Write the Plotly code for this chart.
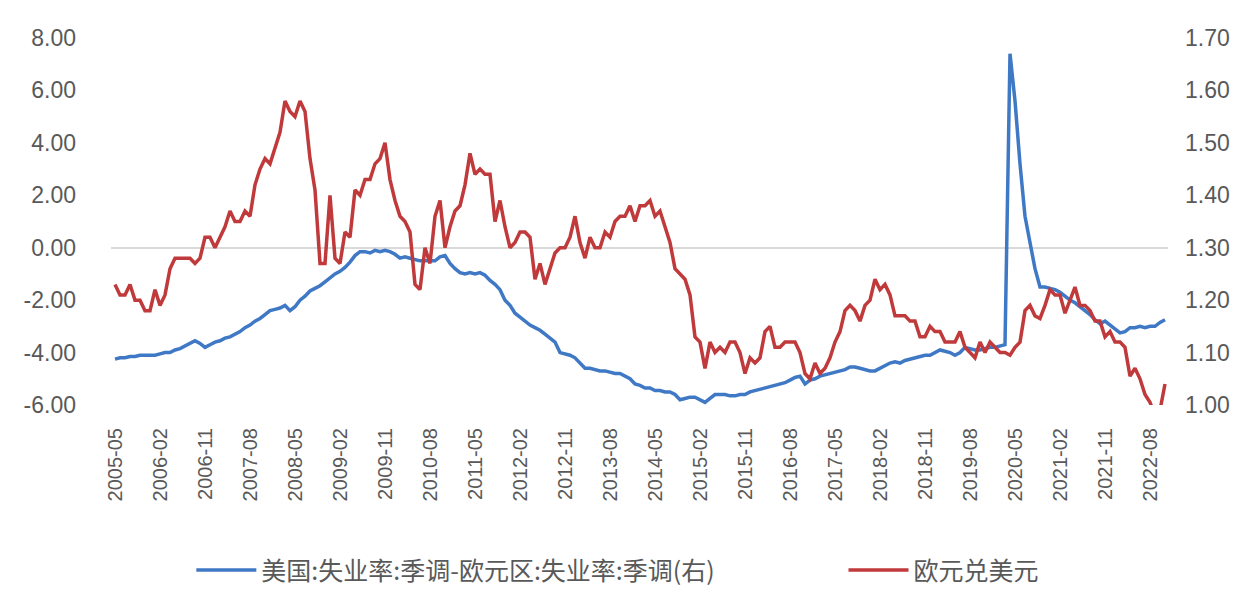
import pandas as pd
import plotly.graph_objects as go

# ---------------- data ----------------
months = list(pd.period_range("2005-05", "2022-11", freq="M").strftime("%Y-%m"))

blue_2005 = [-4.25, -4.2, -4.2, -4.15, -4.15, -4.1, -4.1, -4.1]
blue_2006 = [-4.1, -4.05, -4.0, -4.0, -3.9, -3.85, -3.75, -3.65, -3.55, -3.65, -3.8, -3.7]
blue_2007 = [-3.6, -3.55, -3.45, -3.4, -3.3, -3.2, -3.05, -2.95, -2.8, -2.7, -2.55, -2.4]
blue_2008 = [-2.35, -2.3, -2.2, -2.4, -2.25, -2.0, -1.85, -1.65, -1.55, -1.45, -1.3, -1.15]
blue_2009 = [-1.0, -0.9, -0.75, -0.55, -0.3, -0.15, -0.15, -0.2, -0.1, -0.15, -0.1, -0.15]
blue_2010 = [-0.25, -0.4, -0.35, -0.4, -0.45, -0.5, -0.5, -0.5, -0.5, -0.35, -0.3, -0.6]
blue_2011 = [-0.8, -0.95, -1.0, -0.95, -1.0, -0.95, -1.05, -1.25, -1.4, -1.6, -2.0, -2.2]
blue_2012 = [-2.5, -2.65, -2.8, -2.95, -3.05, -3.15, -3.3, -3.45, -3.6, -4.0, -4.05, -4.1]
blue_2013 = [-4.2, -4.4, -4.6, -4.6, -4.65, -4.7, -4.7, -4.75, -4.8, -4.8, -4.9, -5.0]
blue_2014 = [-5.2, -5.25, -5.35, -5.35, -5.45, -5.45, -5.5, -5.5, -5.6, -5.8, -5.75, -5.7]
blue_2015 = [-5.7, -5.8, -5.9, -5.75, -5.6, -5.6, -5.6, -5.65, -5.65, -5.6, -5.6, -5.5]
blue_2016 = [-5.45, -5.4, -5.35, -5.3, -5.25, -5.2, -5.15, -5.05, -4.95, -4.9, -5.2, -5.05]
blue_2017 = [-5.0, -4.9, -4.85, -4.8, -4.75, -4.7, -4.65, -4.55, -4.55, -4.6, -4.65, -4.7]
blue_2018 = [-4.7, -4.6, -4.5, -4.4, -4.35, -4.4, -4.3, -4.25, -4.2, -4.15, -4.1, -4.1]
blue_2019 = [-4.0, -3.9, -3.95, -4.0, -4.1, -4.0, -3.8, -3.85, -3.9, -3.9, -3.85, -3.8]
blue_2020 = [-3.8, -3.75, -3.7, 7.4, 5.6, 3.2, 1.2, 0.2, -0.8, -1.5, -1.5, -1.55]
blue_2021 = [-1.6, -1.7, -1.85, -2.0, -2.1, -2.25, -2.4, -2.55, -2.75, -2.9, -2.8, -2.95]
blue_2022 = [-3.1, -3.25, -3.2, -3.05, -3.05, -3.0, -3.05, -3.0, -3.0, -2.85, -2.75]

red_2005 = [1.23, 1.21, 1.21, 1.23, 1.20, 1.20, 1.18, 1.18]
red_2006 = [1.22, 1.19, 1.21, 1.26, 1.28, 1.28, 1.28, 1.28, 1.27, 1.28, 1.32, 1.32]
red_2007 = [1.30, 1.32, 1.34, 1.37, 1.35, 1.35, 1.37, 1.36, 1.42, 1.45, 1.47, 1.46]
red_2008 = [1.49, 1.52, 1.58, 1.56, 1.55, 1.58, 1.56, 1.47, 1.41, 1.27, 1.27, 1.40]
red_2009 = [1.28, 1.27, 1.33, 1.32, 1.41, 1.40, 1.43, 1.43, 1.46, 1.47, 1.50, 1.43]
red_2010 = [1.39, 1.36, 1.35, 1.33, 1.23, 1.22, 1.30, 1.27, 1.36, 1.39, 1.30, 1.34]
red_2011 = [1.37, 1.38, 1.42, 1.48, 1.44, 1.45, 1.44, 1.44, 1.35, 1.39, 1.34, 1.30]
red_2012 = [1.31, 1.33, 1.33, 1.32, 1.24, 1.27, 1.23, 1.26, 1.29, 1.30, 1.30, 1.32]
red_2013 = [1.36, 1.31, 1.28, 1.32, 1.30, 1.30, 1.33, 1.32, 1.35, 1.36, 1.36, 1.38]
red_2014 = [1.35, 1.38, 1.38, 1.39, 1.36, 1.37, 1.34, 1.31, 1.26, 1.25, 1.24, 1.21]
red_2015 = [1.13, 1.12, 1.07, 1.12, 1.10, 1.11, 1.10, 1.12, 1.12, 1.10, 1.06, 1.09]
red_2016 = [1.08, 1.09, 1.14, 1.15, 1.11, 1.11, 1.12, 1.12, 1.12, 1.10, 1.06, 1.05]
red_2017 = [1.08, 1.06, 1.07, 1.09, 1.12, 1.14, 1.18, 1.19, 1.18, 1.16, 1.19, 1.20]
red_2018 = [1.24, 1.22, 1.23, 1.21, 1.17, 1.17, 1.17, 1.16, 1.16, 1.13, 1.13, 1.15]
red_2019 = [1.14, 1.14, 1.12, 1.12, 1.12, 1.14, 1.11, 1.10, 1.09, 1.12, 1.10, 1.12]
red_2020 = [1.11, 1.10, 1.10, 1.095, 1.11, 1.12, 1.18, 1.19, 1.17, 1.165, 1.19, 1.22]
red_2021 = [1.21, 1.21, 1.175, 1.20, 1.225, 1.19, 1.19, 1.18, 1.16, 1.16, 1.13, 1.14]
red_2022 = [1.12, 1.12, 1.11, 1.055, 1.07, 1.05, 1.02, 1.005, 0.98, 0.99, 1.04]

blue_values = (blue_2005 + blue_2006 + blue_2007 + blue_2008 + blue_2009 + blue_2010 +
               blue_2011 + blue_2012 + blue_2013 + blue_2014 + blue_2015 + blue_2016 +
               blue_2017 + blue_2018 + blue_2019 + blue_2020 + blue_2021 + blue_2022)
red_values = (red_2005 + red_2006 + red_2007 + red_2008 + red_2009 + red_2010 +
              red_2011 + red_2012 + red_2013 + red_2014 + red_2015 + red_2016 +
              red_2017 + red_2018 + red_2019 + red_2020 + red_2021 + red_2022)

blue_name = "美国:失业率:季调-欧元区:失业率:季调(右)"
red_name = "欧元兑美元"

x_ticks = months[::9]
left_tickvals = [-6, -4, -2, 0, 2, 4, 6, 8]
left_ticktext = ["-6.00", "-4.00", "-2.00", "0.00", "2.00", "4.00", "6.00", "8.00"]
right_tickvals = [1.0, 1.1, 1.2, 1.3, 1.4, 1.5, 1.6, 1.7]
right_ticktext = ["1.00", "1.10", "1.20", "1.30", "1.40", "1.50", "1.60", "1.70"]

# ---------------- figure ----------------
BLUE = "#3f78c4"
RED = "#c0393b"
GREY = "#595959"
FONT = "Liberation Sans, Arial, sans-serif"
CJK = "Noto Sans CJK SC"

fig = go.Figure()
fig.add_trace(go.Scatter(x=months, y=blue_values, name=blue_name, mode="lines",
                         line=dict(color=BLUE, width=3.5), yaxis="y", legend="legend"))
fig.add_trace(go.Scatter(x=months, y=red_values, name=red_name, mode="lines",
                         line=dict(color=RED, width=3.5), yaxis="y2", legend="legend2"))

legend_common = dict(orientation="h", yanchor="middle", y=-0.45, xanchor="left",
                     font=dict(family=CJK, size=25, color=GREY),
                     itemwidth=60, bgcolor="rgba(0,0,0,0)")

fig.update_layout(
    width=1243, height=597,
    margin=dict(l=103, r=83, t=30, b=179),
    paper_bgcolor="white", plot_bgcolor="white",
    font=dict(family=FONT, color=GREY, size=23),
    showlegend=True,
    legend=dict(x=0.076, **legend_common),
    legend2=dict(x=0.693, **legend_common),
    xaxis=dict(type="category", categoryorder="array", categoryarray=months,
               range=[-0.8, 210.6],
               tickmode="array", tickvals=x_ticks, ticktext=x_ticks,
               tickangle=-90, tickfont=dict(size=20, color=GREY),
               showgrid=False, showline=False, zeroline=False, ticks="",
               ticklabelstandoff=18),
    yaxis=dict(range=[-6, 8], tickmode="array", tickvals=left_tickvals,
               ticktext=left_ticktext, showgrid=False, showline=False,
               zeroline=True, zerolinecolor="#d9d9d9", zerolinewidth=1.5,
               ticks="", tickfont=dict(size=23, color=GREY), ticklabelstandoff=34),
    yaxis2=dict(range=[1.0, 1.7], overlaying="y", side="right", tickmode="array",
                tickvals=right_tickvals, ticktext=right_ticktext,
                showgrid=False, showline=False, zeroline=False, ticks="",
                tickfont=dict(size=23, color=GREY), ticklabelstandoff=16),
)

fig.write_html("out.html")
